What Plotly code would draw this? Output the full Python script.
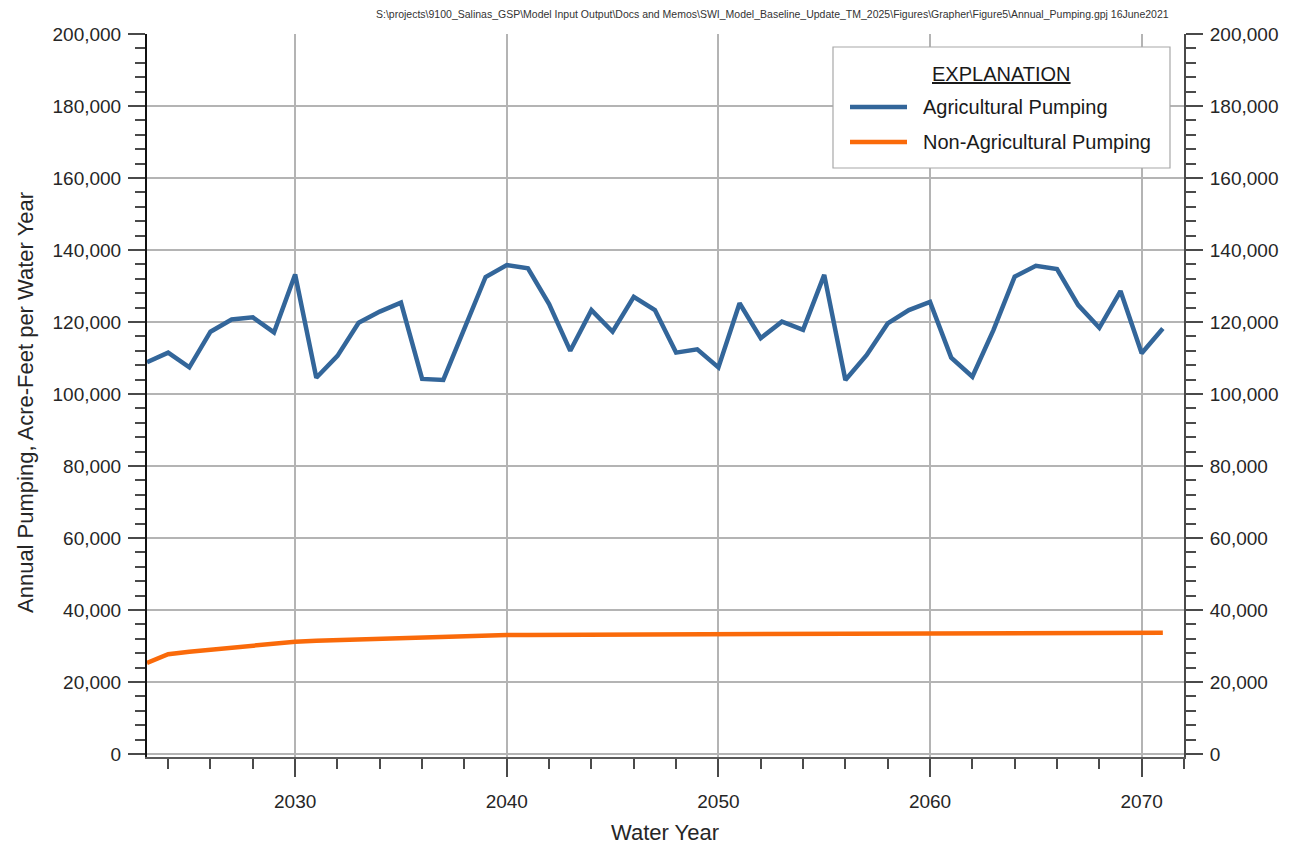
import plotly.graph_objects as go

# Annual pumping by water year (acre-feet)
years = list(range(2023, 2072))

ag_pumping = [
    108800, 111500, 107400, 117300, 120700, 121300, 117100, 133200, 104500, 110600,
    119800, 122900, 125400, 104200, 103900, 118200, 132500, 135800, 134900, 125000,
    112000, 123300, 117300, 127000, 123300, 111500, 112400, 107400, 125200, 115500,
    120100, 117800, 133100, 103900, 110800, 119600, 123300, 125600, 110100, 104800,
    117800, 132600, 135600, 134700, 124700, 118400, 128600, 111300, 118200,
]

non_ag_pumping = [
    25300, 27700, 28400, 29000, 29700, 30300, 30900, 31200, 31450, 31650,
    31850, 32050, 32250, 32450, 32600, 32800, 33000, 33050, 33080, 33100,
    33120, 33140, 33160, 33180, 33200, 33220, 33240, 33260, 33280, 33300,
    33320, 33340, 33360, 33380, 33400, 33420, 33440, 33460, 33480, 33500,
    33520, 33540, 33560, 33580, 33600, 33620, 33640, 33660, 33680,
]

series_names = ["Agricultural Pumping", "Non-Agricultural Pumping"]
series_colors = ["#33669A", "#FA6A0A"]

x_title = "Water Year"
y_title = "Annual Pumping, Acre-Feet per Water Year"
legend_title = "EXPLANATION"
file_stamp = (r"S:\projects\9100_Salinas_GSP\Model Input Output\Docs and Memos"
              r"\SWI_Model_Baseline_Update_TM_2025\Figures\Grapher\Figure5"
              r"\Annual_Pumping.gpj 16June2021")

W, H = 1289, 846
L, R, T, B = 147, 1184, 34, 757  # plot area in pixels

def px2x(px):
    return (px - L) / (R - L)

def py2y(py):
    return (B - py) / (B - T)

FONT = "Liberation Sans, Arial, sans-serif"
TICK_FONT = dict(family=FONT, size=19, color="#262626")
GRID = "#b4b4b4"
AXC = "#4a4a4a"

fig = go.Figure()
for name, vals, col in zip(series_names, [ag_pumping, non_ag_pumping], series_colors):
    fig.add_trace(go.Scatter(x=years, y=vals, mode="lines", name=name,
                             line=dict(color=col, width=4.5), showlegend=False))

# invisible trace to carry the right-hand axis
fig.add_trace(go.Scatter(x=years[:1], y=[0], yaxis="y2", mode="markers",
                         marker=dict(opacity=0), showlegend=False, hoverinfo="skip"))

y_axis_common = dict(
    range=[-830, 200000], tickvals=list(range(0, 200001, 20000)), tickformat=",d",
    ticks="outside", ticklen=17, tickwidth=1.5, tickcolor=AXC,
    showline=True, linewidth=2, tickfont=TICK_FONT, ticklabelstandoff=3,
    minor=dict(dtick=4000, tick0=0, ticks="outside", ticklen=10, tickwidth=1.5,
               tickcolor=AXC, showgrid=False),
    zeroline=False,
)

fig.update_layout(
    width=W, height=H,
    margin=dict(l=L, r=W - R, t=T, b=H - B, autoexpand=False),
    paper_bgcolor="white", plot_bgcolor="white",
    xaxis=dict(
        range=[2023, 2072], tick0=2030, dtick=10, ticks="outside", ticklen=18,
        tickwidth=1.5, tickcolor=AXC, showgrid=True, gridcolor=GRID, gridwidth=1.5,
        showline=True, linecolor="#5a5a5a", linewidth=1.5, zeroline=False,
        tickfont=TICK_FONT, ticklabelstandoff=8,
        minor=dict(dtick=2, tick0=2024, ticks="outside", ticklen=10, tickwidth=1.5,
                   tickcolor=AXC, showgrid=False),
    ),
    yaxis=dict(side="left", linecolor="#111111", showgrid=True, gridcolor=GRID,
               gridwidth=1.5, **y_axis_common),
    yaxis2=dict(side="right", overlaying="y", linecolor=AXC, showgrid=False,
                **y_axis_common),
    showlegend=False,
)

# axis titles
fig.add_annotation(text=x_title, xref="paper", yref="paper", x=px2x(665), y=py2y(832),
                   showarrow=False, xanchor="center", yanchor="middle",
                   font=dict(family=FONT, size=22, color="#262626"))
fig.add_annotation(text=y_title, xref="paper", yref="paper", x=px2x(25), y=py2y(403),
                   showarrow=False, textangle=-90, xanchor="center", yanchor="middle",
                   font=dict(family=FONT, size=22, color="#262626"))

# file stamp in the top right corner
fig.add_annotation(text=file_stamp, xref="paper", yref="paper", x=px2x(1171), y=py2y(14),
                   showarrow=False, xanchor="right", yanchor="middle",
                   font=dict(family=FONT, size=10.5, color="#333333"))

# explanation box
fig.add_shape(type="rect", xref="paper", yref="paper",
              x0=px2x(833), x1=px2x(1170), y0=py2y(168), y1=py2y(47),
              line=dict(color="#a8a8a8", width=1.2), fillcolor="white", layer="above")
fig.add_annotation(text=legend_title, xref="paper", yref="paper", x=px2x(1001), y=py2y(74),
                   showarrow=False, xanchor="center", yanchor="middle",
                   font=dict(family=FONT, size=20, color="#1a1a1a", lineposition="under"))
for i, (name, col) in enumerate(zip(series_names, series_colors)):
    yy = 107 + i * 35
    fig.add_shape(type="line", xref="paper", yref="paper",
                  x0=px2x(850), x1=px2x(907), y0=py2y(yy), y1=py2y(yy),
                  line=dict(color=col, width=4.5), layer="above")
    fig.add_annotation(text=name, xref="paper", yref="paper", x=px2x(921), y=py2y(yy),
                       showarrow=False, xanchor="left", yanchor="middle",
                       font=dict(family=FONT, size=20, color="#1a1a1a"))

fig.write_html("out.html")
